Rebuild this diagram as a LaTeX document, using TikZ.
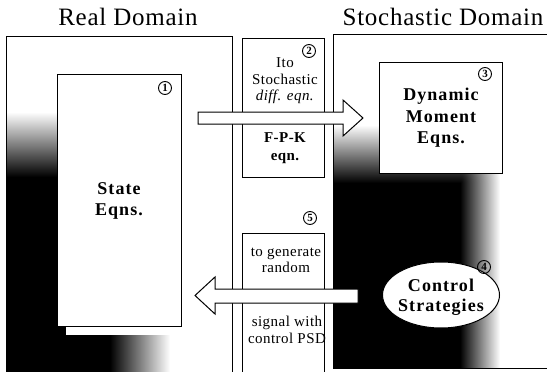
\documentclass[tikz,border=0pt]{standalone}
\usepackage{fontspec}
\setmainfont{Liberation Serif}
\usetikzlibrary{shapes.geometric}
\begin{document}
\begin{tikzpicture}[x=1pt,y=-1pt,
  panel/.style={draw=black, line width=1pt},
  eqbox/.style={draw=black, fill=white, line width=1pt, inner sep=0pt},
  boldlbl/.style={font=\fontsize{18}{21.5}\selectfont\bfseries\addfontfeature{LetterSpace=6}, align=center, inner sep=0pt},
  midlbl/.style={font=\fontsize{15}{16.5}\selectfont\addfontfeature{LetterSpace=3}, align=center, inner sep=0pt},
  midbold/.style={font=\fontsize{15}{18}\selectfont\bfseries\addfontfeature{LetterSpace=3}, align=center, inner sep=0pt},
  num/.style={circle, draw=black, line width=0.9pt, inner sep=0pt, minimum size=13pt, font=\fontsize{11}{11}\selectfont\bfseries},
  blockarrow/.style={draw=black, fill=white, line width=1pt, line join=miter},
  titletext/.style={font=\fontsize{25}{25}\selectfont\addfontfeature{LetterSpace=3}, inner sep=0pt, anchor=base}
]
\useasboundingbox (0,0) rectangle (547,372);
\fill[white] (0,0) rectangle (547,372);

% ---- dark shading, left panel
\fill[black] (6,177) rectangle (110,372);
\shade[top color=white, bottom color=black] (6,112) rectangle (110,177);
\shade[left color=black, right color=white] (110,177) rectangle (170,372);
\begin{scope}
  \clip (110,112) rectangle (170,177);
  \shade[inner color=black, outer color=white] (110,177) ellipse [x radius=60, y radius=65];
\end{scope}

% ---- dark shading, right panel
\fill[black] (333,183) rectangle (460,368);
\shade[top color=white, bottom color=black] (333,125) rectangle (460,183);
\shade[left color=black, right color=white] (460,183) rectangle (500,368);
\begin{scope}
  \clip (460,125) rectangle (500,183);
  \shade[inner color=black, outer color=white] (460,183) ellipse [x radius=40, y radius=58];
\end{scope}

% ---- titles
\node[titletext] (tReal) at (128,25) {Real Domain};
\node[titletext] (tStoch) at (443,25) {Stochastic Domain};

% ---- panels
\draw[panel] (6,372) -- (6,36) -- (232,36) -- (232,372);
\draw[panel] (547,34) -- (333,34) -- (333,368) -- (547,368);

% ---- middle boxes
\node[eqbox, minimum width=82, minimum height=139] (midtop) at (283,107.5) {};
\draw[panel] (242,373) -- (242,233) -- (324,233) -- (324,373);
\coordinate (midbot) at (283,300);

% ---- state equations box (with white offset shadow)
\fill[white] (66,83) rectangle (190,335);
\node[eqbox, minimum width=124, minimum height=252] (state) at (119,200) {};
\node[boldlbl] (stateT) at (119,201) {State\\Eqns.};

% ---- dynamic moment box
\node[eqbox, minimum width=123, minimum height=111] (moment) at (440.5,117.5) {};
\node[boldlbl] (momentT) at (441,118) {Dynamic\\Moment\\Eqns.};

% ---- control strategies ellipse
\node[eqbox, ellipse, minimum width=117, minimum height=66] (ctrl) at (441,295) {};
\node[boldlbl, font=\fontsize{18}{20}\selectfont\bfseries\addfontfeature{LetterSpace=6}] (ctrlT) at (441,297) {Control\\Strategies};

% ---- middle texts
\node[midlbl] (ito) at (285,81) {Ito\\Stochastic\\\textit{diff. eqn.}};
\node[midbold] (fpk) at (285,148) {F-P-K\\eqn.};
\node[midlbl, font=\fontsize{15}{15.5}\selectfont\addfontfeature{LetterSpace=3}] (gen) at (286,260.5) {to generate\\random};
\node[midlbl] (sig) at (287,330) {signal with\\control PSD};

% ---- block arrows
\coordinate (a1s) at (198,118);
\coordinate (a1t) at (363,118);
\draw[blockarrow] (a1s) ++(0,-6) -- (343,112) -- (343,100) -- (a1t) -- (343,136) -- (343,124) -- (198,124) -- cycle;
\coordinate (a2s) at (358,296);
\coordinate (a2t) at (195,295.5);
\draw[blockarrow] (a2s) ++(0,-7) -- (215,289) -- (215,277) -- (a2t) -- (215,314) -- (215,303) -- (358,303) -- cycle;

% ---- circled numbers
\node[num] (n1) at (165,88) {1};
\node[num] (n2) at (309,51) {2};
\node[num] (n3) at (485,74) {3};
\node[num] (n4) at (484,267) {4};
\node[num] (n5) at (310,218) {5};
\end{tikzpicture}
\end{document}
